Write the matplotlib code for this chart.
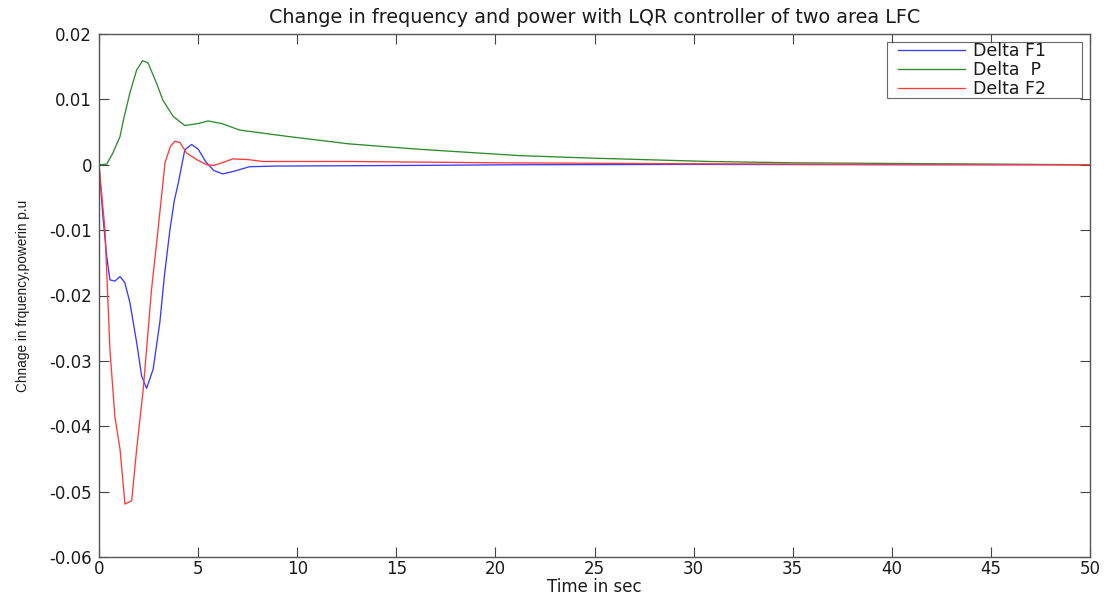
import matplotlib
matplotlib.use("Agg")
import matplotlib.pyplot as plt
from matplotlib.lines import Line2D
from matplotlib.legend_handler import HandlerLine2D

# Delta F1 (blue)
t_f1 = [0, 0.2, 0.39, 0.55, 0.8, 1.06, 1.3, 1.56, 1.9, 2.15, 2.4, 2.73, 3.07, 3.3, 3.58, 3.8, 4.0,
        4.33, 4.67, 5.0, 5.4, 5.8, 6.25, 6.8, 7.6, 9.0, 12.6, 16, 21, 30, 40, 50]
f1 = [0, -0.008, -0.014, -0.0176, -0.0178, -0.0171, -0.018, -0.0211, -0.0272, -0.0323, -0.0342,
      -0.0313, -0.0241, -0.017, -0.0099, -0.0055, -0.0028, 0.0023, 0.0031, 0.0024, 0.0004, -0.0009,
      -0.0014, -0.0010, -0.0003, -0.0002, -0.00015, -0.0001, 0.0, 0.00005, 0.0, 0.0]

# Delta P (green)
t_p = [0, 0.39, 0.7, 1.06, 1.23, 1.56, 1.9, 2.2, 2.47, 2.9, 3.22, 3.74, 4.33, 5.0, 5.5, 6.2, 7.1,
       9.6, 12.6, 16, 21.2, 25, 30.8, 35, 40, 45, 50]
p = [0, 0.0001, 0.0018, 0.0043, 0.0068, 0.011, 0.0145, 0.0159, 0.0156, 0.0125, 0.0099, 0.0074,
     0.006, 0.0063, 0.0067, 0.0063, 0.0053, 0.0043, 0.0032, 0.0024, 0.0014, 0.001, 0.0005, 0.0003,
     0.0002, 0.0001, 0.0]

# Delta F2 (red)
t_f2 = [0, 0.3, 0.55, 0.8, 1.06, 1.31, 1.65, 1.9, 2.23, 2.65, 2.98, 3.33, 3.6, 3.83, 4.08, 4.42,
        4.92, 5.43, 5.8, 6.3, 6.75, 7.5, 8.26, 12.6, 20, 30, 40, 50]
f2 = [0, -0.0099, -0.0282, -0.0385, -0.0435, -0.0519, -0.0514, -0.0435, -0.0344, -0.0191, -0.0099,
      0.0003, 0.0028, 0.0036, 0.0034, 0.0018, 0.0008, 0.0, -0.0001, 0.0004, 0.0009, 0.0008, 0.0005,
      0.0005, 0.0003, 0.00015, 0.00005, 0.0]

xticks = [0, 5, 10, 15, 20, 25, 30, 35, 40, 45, 50]
yticks = [-0.06, -0.05, -0.04, -0.03, -0.02, -0.01, 0, 0.01, 0.02]
ytick_labels = ["-0.06", "-0.05", "-0.04", "-0.03", "-0.02", "-0.01", "0", "0.01", "0.02"]

plt.rcParams['font.family'] = ['DejaVu Sans']

fig = plt.figure(figsize=(11.09, 5.95), dpi=100)
ax = fig.add_axes([99/1109, 1 - 557/595, (1090 - 99)/1109, (557 - 34)/595])

ax.plot(t_f1, f1, color='#3a3aff', lw=0.95, label='Delta F1')
ax.plot(t_p, p, color='#2e8b2e', lw=0.95, label='Delta  P')
ax.plot(t_f2, f2, color='#ff3a3a', lw=0.95, label='Delta F2')

ax.set_xlim(0, 50)
ax.set_ylim(-0.06, 0.02)
ax.set_xticks(xticks)
ax.set_xticklabels([str(v) for v in xticks])
ax.set_yticks(yticks)
ax.set_yticklabels(ytick_labels)
ax.tick_params(direction='in', top=True, right=True, labelsize=12, length=7, width=0.8,
               colors='#444444', labelcolor='#1a1a1a')
ax.tick_params(axis='x', pad=2)
ax.tick_params(axis='y', pad=5)
for s in ax.spines.values():
    s.set_color('#555555')
    s.set_linewidth(1.0)

ax.set_title('Change in frequency and power with LQR controller of two area LFC', fontsize=13.8,
             pad=8, color='#1a1a1a')
ax.set_xlabel('Time in sec', fontsize=12, labelpad=0, color='#1a1a1a')
ax.set_ylabel('Chnage in frquency,powerin p.u', fontsize=9.8, color='#1a1a1a',
              family=['Liberation Sans', 'DejaVu Sans'], labelpad=14)

leg = ax.legend(loc='upper left', bbox_to_anchor=(0.795, 0.9847, 0.197, 0), mode='expand',
                fontsize=12.5, frameon=True, fancybox=False, borderpad=0.02,
                labelspacing=0.05, handlelength=4.5, handletextpad=0.46, borderaxespad=0,
                handler_map={Line2D: HandlerLine2D(xpad=0.6)})
leg.get_frame().set_edgecolor('#444444')
leg.get_frame().set_linewidth(0.8)
for txt in leg.get_texts():
    txt.set_color('#1a1a1a')

fig.savefig('out.png', dpi=100)
